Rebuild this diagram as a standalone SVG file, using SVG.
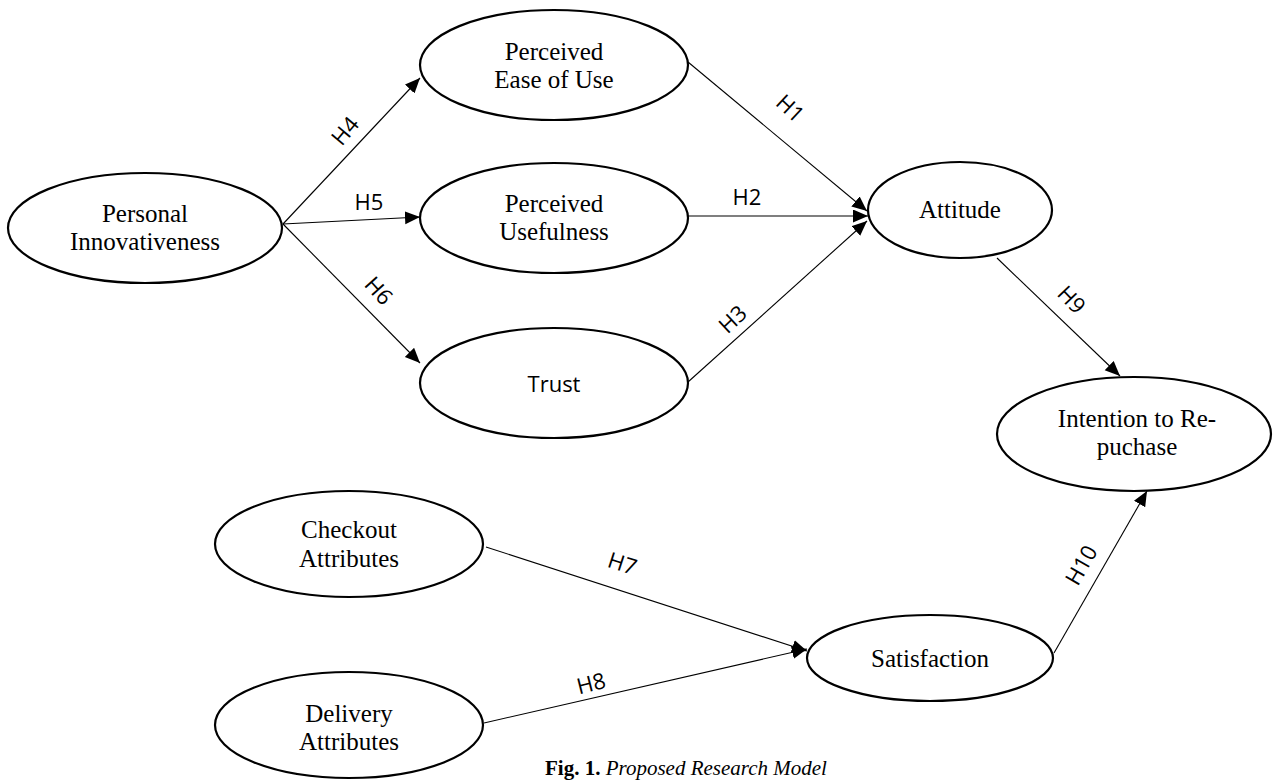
<svg xmlns="http://www.w3.org/2000/svg" width="1274" height="780" viewBox="0 0 1274 780">
<style>
.node ellipse{fill:#fff;stroke:#000;stroke-width:2.2}
.nt{font-family:"Liberation Serif","Times New Roman",serif;font-size:25px;fill:#000;text-anchor:middle}
.st{font-family:"Open Sans","Noto Sans",sans-serif;font-size:22px;fill:#000;text-anchor:middle}
.edge{stroke:#000;stroke-width:1.1;fill:none;marker-end:url(#arr)}
.lbl{font-family:"Open Sans","Noto Sans",sans-serif;font-size:22px;fill:#000;text-anchor:middle}
.cap{font-family:"Liberation Serif","Times New Roman",serif;font-size:21px;fill:#000}
</style>
<defs>
<marker id="arr" markerUnits="userSpaceOnUse" markerWidth="16" markerHeight="14" refX="15" refY="6.5" orient="auto">
<path d="M0,0 L15,6.5 L0,13 z" fill="#000"/>
</marker>
</defs>
<rect width="1274" height="780" fill="#fff"/>
<g id="connectors">
<line class="edge" x1="283" y1="224" x2="420" y2="78"/>
<line class="edge" x1="283" y1="224" x2="420" y2="217"/>
<line class="edge" x1="283" y1="224" x2="420" y2="363"/>
<line class="edge" x1="688" y1="62" x2="867" y2="211"/>
<line class="edge" x1="688" y1="216" x2="868" y2="216"/>
<line class="edge" x1="688" y1="382" x2="867" y2="221"/>
<line class="edge" x1="997" y1="258" x2="1120" y2="376"/>
<line class="edge" x1="486" y1="547" x2="807" y2="651"/>
<line class="edge" x1="484" y1="723" x2="807" y2="649"/>
<line class="edge" x1="1054" y1="653" x2="1147" y2="491"/>
<text class="lbl" transform="translate(351,136) rotate(-50)">H4</text>
<text class="lbl" transform="translate(369,210)">H5</text>
<text class="lbl" transform="translate(373,296) rotate(48)">H6</text>
<text class="lbl" transform="translate(785,114) rotate(43)">H1</text>
<text class="lbl" transform="translate(747,205)">H2</text>
<text class="lbl" transform="translate(738,325) rotate(-43)">H3</text>
<text class="lbl" transform="translate(1066,305) rotate(46)">H9</text>
<text class="lbl" transform="translate(620,571) rotate(18)">H7</text>
<text class="lbl" transform="translate(593,691) rotate(-14)">H8</text>
<text class="lbl" transform="translate(1088,569) rotate(-60)">H10</text>
</g>
<g id="personal" class="node"><ellipse cx="145" cy="228" rx="137" ry="55"/><text class="nt" x="145" y="222">Personal</text><text class="nt" x="145" y="250">Innovativeness</text></g>
<g id="peou" class="node"><ellipse cx="554" cy="65" rx="134" ry="55"/><text class="nt" x="554" y="60">Perceived</text><text class="nt" x="554" y="88">Ease of Use</text></g>
<g id="pu" class="node"><ellipse cx="554" cy="218" rx="134" ry="55"/><text class="nt" x="554" y="212">Perceived</text><text class="nt" x="554" y="240">Usefulness</text></g>
<g id="trust" class="node"><ellipse cx="554" cy="383" rx="134" ry="55"/><text class="st" x="554" y="392">Trust</text></g>
<g id="attitude" class="node"><ellipse cx="960" cy="210" rx="92" ry="48"/><text class="nt" x="960" y="218">Attitude</text></g>
<g id="intention" class="node"><ellipse cx="1134" cy="434" rx="137" ry="57"/><text class="nt" x="1137" y="427">Intention to Re-</text><text class="nt" x="1137" y="455">puchase</text></g>
<g id="checkout" class="node"><ellipse cx="349" cy="544" rx="134" ry="53"/><text class="nt" x="349" y="538">Checkout</text><text class="nt" x="349" y="567">Attributes</text></g>
<g id="delivery" class="node"><ellipse cx="349" cy="725" rx="134" ry="53"/><text class="nt" x="349" y="722">Delivery</text><text class="nt" x="349" y="750">Attributes</text></g>
<g id="satisfaction" class="node"><ellipse cx="930" cy="658" rx="123" ry="43"/><text class="nt" x="930" y="667">Satisfaction</text></g>
<text class="cap" x="545" y="775"><tspan font-weight="bold">Fig. 1. </tspan><tspan font-style="italic">Proposed Research Model</tspan></text>
</svg>
